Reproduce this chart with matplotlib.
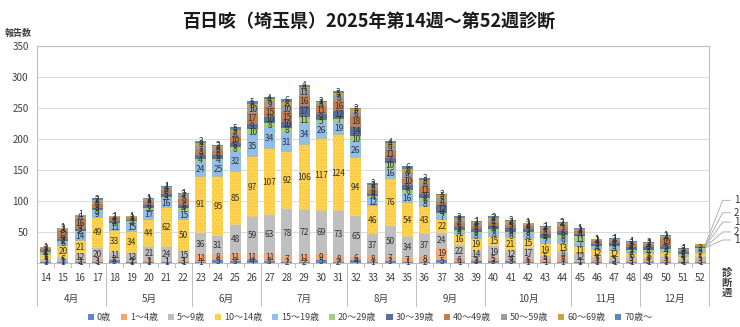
import matplotlib.pyplot as plt
import numpy as np
from matplotlib.transforms import blended_transform_factory

plt.rcParams['font.family'] = ['Noto Sans CJK JP', 'DejaVu Sans']
plt.rcParams['hatch.linewidth'] = 0.35

weeks = [str(w) for w in range(14, 53)]
months = ['4月', '5月', '6月', '7月', '8月', '9月', '10月', '11月', '12月']
month_weeks = [4, 5, 4, 5, 4, 4, 5, 4, 4]

groups = ['0歳', '1～4歳', '5～9歳', '10～14歳', '15～19歳', '20～29歳',
          '30～39歳', '40～49歳', '50～59歳', '60～69歳', '70歳～']

age0 = [1, 1, 1, 1, 5, 1, 1, 1, 1, 1, 5, 3, 4, 3, 2, 2, 5, 2, 4, 1, 3, 1, 2, 5, 1, 3, 3, 3, 1, 1, 1, 1, 1, 1, 1, 1, 1, 1, 1]
age1_4 = [1, 1, 2, 3, 2, 2, 3, 1, 3, 11, 8, 11, 11, 11, 7, 11, 9, 8, 6, 8, 7, 7, 8, 19, 6, 3, 5, 4, 6, 5, 8, 1, 3, 2, 3, 3, 3, 2, 3]
age5_9 = [5, 6, 12, 20, 11, 13, 21, 24, 15, 36, 31, 48, 59, 63, 78, 72, 69, 73, 65, 37, 50, 34, 37, 24, 22, 14, 19, 12, 17, 5, 8, 12, 5, 5, 5, 4, 5, 3, 5]
age10_14 = [5, 20, 21, 49, 33, 34, 44, 62, 50, 91, 95, 85, 97, 107, 92, 106, 117, 124, 94, 46, 76, 54, 43, 22, 16, 19, 15, 21, 15, 19, 13, 11, 12, 12, 6, 6, 7, 4, 7]
age15_19 = [4, 6, 14, 9, 11, 15, 17, 16, 15, 24, 25, 32, 35, 34, 31, 34, 26, 19, 26, 12, 16, 16, 8, 7, 4, 8, 8, 6, 8, 7, 9, 7, 4, 5, 3, 4, 4, 3, 5]
age20_29 = [1, 2, 2, 3, 3, 2, 2, 3, 4, 4, 4, 8, 10, 8, 8, 11, 5, 7, 10, 4, 10, 6, 6, 4, 4, 3, 4, 4, 3, 4, 6, 11, 3, 3, 3, 3, 3, 2, 3]
age30_39 = [2, 3, 3, 4, 3, 3, 6, 5, 6, 7, 6, 6, 9, 10, 10, 17, 9, 12, 14, 4, 7, 8, 8, 12, 5, 5, 6, 6, 5, 6, 6, 4, 3, 4, 4, 4, 5, 3, 1]
age40_49 = [3, 12, 16, 6, 4, 3, 5, 6, 9, 8, 6, 10, 17, 15, 15, 16, 11, 16, 18, 6, 11, 10, 11, 6, 6, 5, 5, 5, 4, 5, 7, 4, 4, 4, 5, 4, 10, 2, 2]
age50_59 = [2, 3, 6, 5, 2, 1, 3, 4, 7, 7, 6, 6, 10, 9, 10, 11, 5, 8, 6, 5, 9, 9, 6, 5, 5, 4, 5, 4, 3, 4, 4, 3, 2, 2, 3, 2, 4, 2, 1]
age60_69 = [1, 2, 1, 2, 1, 1, 1, 1, 2, 5, 3, 5, 5, 4, 6, 4, 3, 5, 5, 3, 4, 6, 5, 5, 3, 2, 3, 2, 2, 2, 2, 1, 1, 1, 1, 1, 2, 1, 2]
age70 = [0, 1, 0, 2, 0, 0, 1, 1, 1, 3, 2, 5, 5, 4, 6, 4, 3, 3, 2, 3, 4, 6, 3, 3, 3, 1, 2, 2, 1, 1, 2, 1, 1, 1, 1, 2, 1, 1, 1]

series = [age0, age1_4, age5_9, age10_14, age15_19, age20_29,
          age30_39, age40_49, age50_59, age60_69, age70]
colors = ['#5f86c9', '#f4a774', '#bfbfbf', '#ffd34f', '#92bde8', '#a2cf7f',
          '#5b6f9f', '#c27d50', '#9c9c9c', '#c6a542', '#5687bd']

fig = plt.figure(figsize=(7.4, 3.27), dpi=100)
ax = fig.add_axes([0.05, 0.196, 0.908, 0.663])

x = np.arange(len(weeks))
bottom = np.zeros(len(weeks))
for i, (vals, name, c) in enumerate(zip(series, groups, colors)):
    vals = np.array(vals)
    if i == 3:
        ax.bar(x, vals, 0.64, bottom=bottom, color=c, label=name,
               hatch='.....', edgecolor='#ebb935', linewidth=0)
    else:
        ax.bar(x, vals, 0.64, bottom=bottom, color=c, label=name, linewidth=0)
    for j, v in enumerate(vals):
        if v == 0:
            continue
        if j == len(weeks) - 1 and i >= 6:
            continue
        ax.text(x[j], bottom[j] + v / 2, str(v), ha='center', va='center',
                fontsize=6, color='#333333')
    bottom += vals

# week 52: top labels pulled out to the right
last = len(weeks) - 1
base = np.cumsum([s[last] for s in series])
label_y = [37, 50, 66, 81, 101]
for k, i in enumerate(range(6, 11)):
    yc = base[i] - series[i][last] / 2
    ax.plot([x[last] + 0.3, 39.3, 39.75], [yc, label_y[k], label_y[k]],
            color='#a6a6a6', lw=0.6, clip_on=False)
    ax.text(39.95, label_y[k], str(series[i][last]), ha='left', va='center',
            fontsize=7, color='#333333', clip_on=False)

ax.set_xlim(-0.5, len(weeks) - 0.5)
ax.set_ylim(0, 350)
ax.set_yticks(np.arange(50, 351, 50))
ax.tick_params(axis='y', length=0, labelsize=7, colors='#404040', pad=6)
ax.set_xticks([])
ax.grid(axis='y', color='#d9d9d9', lw=0.7)
ax.set_axisbelow(True)
for s in ax.spines.values():
    s.set_color('#bfbfbf')
    s.set_linewidth(0.8)

# multi-level x axis
tr = blended_transform_factory(ax.transData, ax.transAxes)
for j, w in enumerate(weeks):
    ax.text(x[j], -0.07, w, transform=tr, ha='center', va='center',
            fontsize=7, color='#404040')
    ax.plot([x[j] + 0.5, x[j] + 0.5], [0, -0.02], transform=tr,
            color='#bfbfbf', lw=0.7, clip_on=False)
edges = np.concatenate([[0], np.cumsum(month_weeks)]) - 0.5
for k, m in enumerate(months):
    ax.text((edges[k] + edges[k + 1]) / 2, -0.165, m, transform=tr,
            ha='center', va='center', fontsize=7, color='#404040')
for e in edges:
    ax.plot([e, e], [0, -0.2], transform=tr, color='#bfbfbf', lw=0.7, clip_on=False)

fig.text(0.5, 0.935, '百日咳（埼玉県）2025年第14週～第52週診断', ha='center', va='center',
         fontsize=13, fontweight='bold', color='#1a1a1a')
fig.text(0.024, 0.897, '報告数', ha='center', va='center', fontsize=6.5,
         fontweight='bold', color='#404040')
fig.text(0.982, 0.135, '診\n断\n週', ha='center', va='center', fontsize=7.5,
         fontweight='bold', color='#404040', linespacing=1.0)

fig.legend(loc='center', bbox_to_anchor=(0.5, 0.028), ncol=11, frameon=False,
           fontsize=6.5, handlelength=0.7, handleheight=0.7, handletextpad=0.3,
           columnspacing=1.1, labelcolor='#404040')

fig.savefig('out.png', dpi=100)
